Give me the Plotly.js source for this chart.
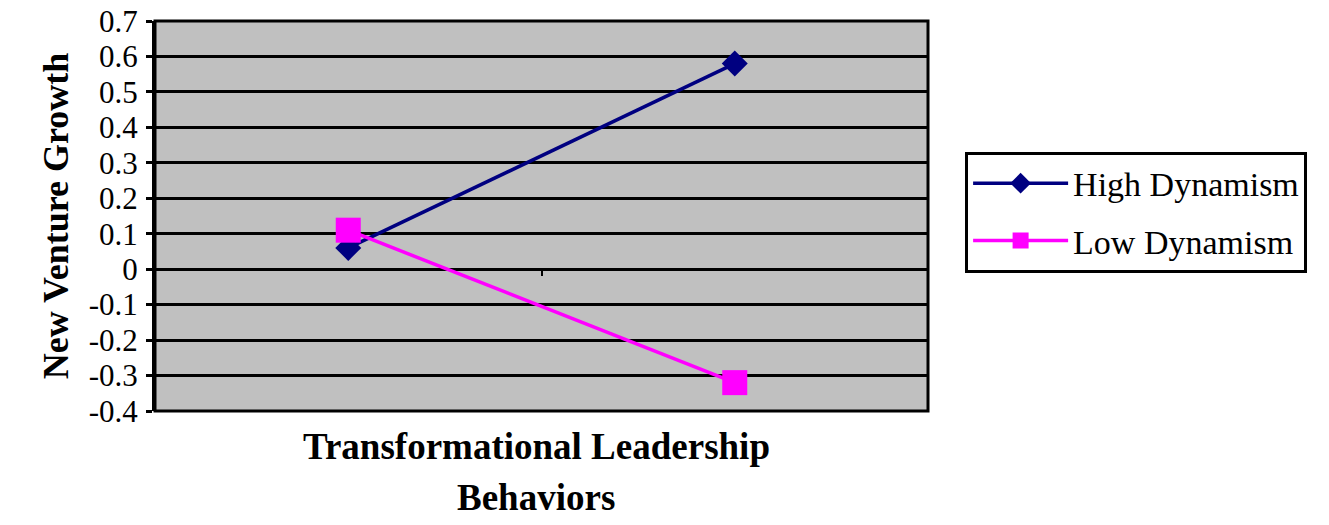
<!DOCTYPE html>
<html>
<head>
<meta charset="utf-8">
<script src="https://cdn.plot.ly/plotly-3.0.1.min.js"></script>
<style>html,body{margin:0;padding:0;background:#fff;}#chart{width:1329px;height:525px;}</style>
</head>
<body>
<div id="chart"></div>
<script>
// Data
const categories = ['Low', 'High'];
const highDynamism = [0.06, 0.58];
const lowDynamism = [0.11, -0.32];
const seriesNames = ['High Dynamism', 'Low Dynamism'];
const yTickValues = [-0.4, -0.3, -0.2, -0.1, 0, 0.1, 0.2, 0.3, 0.4, 0.5, 0.6, 0.7];
const yTickLabels = ['-0.4', '-0.3', '-0.2', '-0.1', '0', '0.1', '0.2', '0.3', '0.4', '0.5', '0.6', '0.7'];
const yAxisTitle = 'New Venture Growth';
const xTitleLines = ['Transformational Leadership', 'Behaviors'];

const FONT = '"Liberation Serif", "Times New Roman", serif';
const yMin = -0.4, yMax = 0.7;
const zeroPos = (0 - yMin) / (yMax - yMin);

const traces = [
  {
    x: categories, y: highDynamism, name: seriesNames[0], type: 'scatter', mode: 'lines+markers',
    line: {color: '#000080', width: 3.5},
    marker: {symbol: 'diamond', size: 20, color: '#000080'},
    legendgroup: 'a'
  },
  {
    x: categories, y: lowDynamism, name: seriesNames[1], type: 'scatter', mode: 'lines+markers',
    line: {color: '#FF00FF', width: 3.5},
    marker: {symbol: 'square', size: 25, color: '#FF00FF'},
    legendgroup: 'b'
  }
];

const layout = {
  width: 1329, height: 525,
  margin: {l: 155, r: 401, t: 21, b: 114},
  paper_bgcolor: '#ffffff',
  plot_bgcolor: '#C0C0C0',
  font: {family: FONT, color: '#000'},
  showlegend: true,
  legend: {
    x: 1.048, xanchor: 'left', y: 0.51, yanchor: 'middle',
    bordercolor: '#000', borderwidth: 3, bgcolor: '#fff',
    font: {family: FONT, size: 34, color: '#000'},
    traceorder: 'grouped', tracegroupgap: 10, itemwidth: 95
  },
  xaxis: {
    type: 'category', range: [-0.5, 1.5],
    showgrid: false, zeroline: false, showline: false,
    showticklabels: false, tickson: 'boundaries',
    ticks: 'outside', ticklen: 6, tickwidth: 2, tickcolor: '#000',
    anchor: 'free', position: zeroPos, fixedrange: true
  },
  yaxis: {
    range: [yMin, yMax], tickmode: 'array', tickvals: yTickValues, ticktext: yTickLabels,
    showgrid: true, gridcolor: '#000', gridwidth: 3, zeroline: false,
    showline: true, linecolor: '#000', linewidth: 3,
    ticks: 'outside', ticklen: 6, tickwidth: 3, tickcolor: '#000',
    ticklabelstandoff: 2,
    tickfont: {family: FONT, size: 31, color: '#000'},
    title: {text: yAxisTitle, font: {family: FONT, size: 36, color: '#000', weight: 'bold'}, standoff: 10},
    fixedrange: true
  },
  shapes: [
    {type: 'rect', xref: 'paper', yref: 'paper', x0: 0, x1: 1, y0: 0, y1: 1,
     line: {color: '#000', width: 3}, fillcolor: 'rgba(0,0,0,0)', layer: 'above'}
  ],
  annotations: [
    {text: '<b>' + xTitleLines[0] + '</b>', xref: 'paper', yref: 'paper', x: 0.493, y: -0.09,
     xanchor: 'center', yanchor: 'middle', showarrow: false, font: {family: FONT, size: 37, color: '#000'}},
    {text: '<b>' + xTitleLines[1] + '</b>', xref: 'paper', yref: 'paper', x: 0.493, y: -0.222,
     xanchor: 'center', yanchor: 'middle', showarrow: false, font: {family: FONT, size: 37, color: '#000'}}
  ]
};

Plotly.newPlot('chart', traces, layout, {displayModeBar: false, staticPlot: true});
</script>
</body>
</html>
